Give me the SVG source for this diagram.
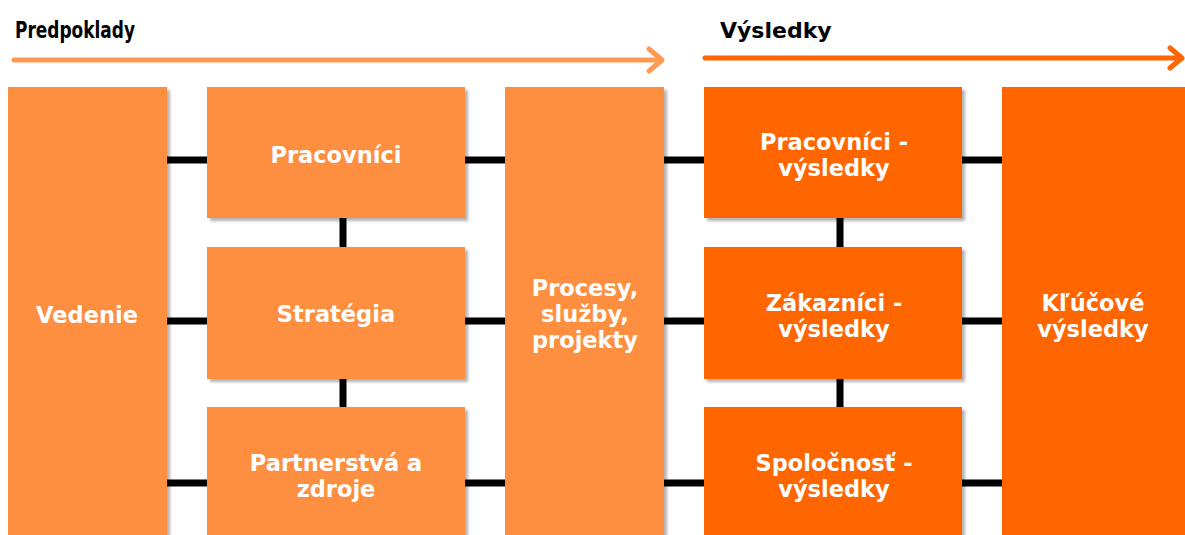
<svg xmlns="http://www.w3.org/2000/svg" width="1185" height="535" viewBox="0 0 1185 535">
<style>
.l{fill:#FF8F40}
.d{fill:#FF6600}
.t{font-family:"DejaVu Sans",Verdana,sans-serif;font-weight:bold;font-size:22.5px;fill:#FFFFFF;text-anchor:middle}
.h{font-weight:bold;fill:#000}
.c{stroke:#000;stroke-width:7;fill:none}
</style>
<defs>
<filter id="sh" x="-10%" y="-10%" width="130%" height="130%">
<feDropShadow dx="3" dy="3" stdDeviation="1.5" flood-color="#000" flood-opacity="0.3"/>
</filter>
</defs>
<rect width="1185" height="535" fill="#fff"/>
<text class="h" x="15" y="38" font-size="23" textLength="120" lengthAdjust="spacingAndGlyphs" font-family="'DejaVu Sans Condensed','Liberation Sans',Arial,sans-serif">Predpoklady</text>
<text class="h" x="720" y="38" font-size="22" font-family="'DejaVu Sans',Verdana,sans-serif">Výsledky</text>
<g id="arrows" fill="none" stroke-linecap="round" stroke-linejoin="round" stroke-width="5">
<path d="M14 60 H662 M649 49 L662 60 L649 71" stroke="#FF9A55"/>
<path d="M705 58 H1182 M1170 48 L1182 58 L1170 68" stroke="#FF6600"/>
</g>
<g id="connectors">
<path class="c" d="M167 160 H207 M465 160 H505 M664 160 H704 M962 160 H1002"/>
<path class="c" d="M167 321 H207 M465 321 H505 M664 321 H704 M962 321 H1002"/>
<path class="c" d="M167 483 H207 M465 483 H505 M664 483 H704 M962 483 H1002"/>
<path class="c" d="M343 218 V247 M343 379 V407 M840 218 V247 M840 379 V407"/>
</g>
<g id="vedenie"><rect class="l" filter="url(#sh)" x="8" y="87" width="159" height="460"/><text class="t" x="87" y="323">Vedenie</text></g>
<g id="pracovnici"><rect class="l" filter="url(#sh)" x="207" y="87" width="258" height="131"/><text class="t" x="336" y="163">Pracovníci</text></g>
<g id="strategia"><rect class="l" filter="url(#sh)" x="207" y="247" width="258" height="132"/><text class="t" x="336" y="322">Stratégia</text></g>
<g id="partnerstva"><rect class="l" filter="url(#sh)" x="207" y="407" width="258" height="140"/><text class="t" x="336" y="471">Partnerstvá a</text><text class="t" x="336" y="497">zdroje</text></g>
<g id="procesy"><rect class="l" filter="url(#sh)" x="505" y="87" width="159" height="460"/><text class="t" x="585" y="296">Procesy,</text><text class="t" x="585" y="322">služby,</text><text class="t" x="585" y="348">projekty</text></g>
<g id="pracovnici-vysledky"><rect class="d" filter="url(#sh)" x="704" y="87" width="258" height="131"/><text class="t" x="834" y="150">Pracovníci -</text><text class="t" x="834" y="176">výsledky</text></g>
<g id="zakaznici-vysledky"><rect class="d" filter="url(#sh)" x="704" y="247" width="258" height="132"/><text class="t" x="834" y="311">Zákazníci -</text><text class="t" x="834" y="337">výsledky</text></g>
<g id="spolocnost-vysledky"><rect class="d" filter="url(#sh)" x="704" y="407" width="258" height="140"/><text class="t" x="834" y="471">Spoločnosť -</text><text class="t" x="834" y="497">výsledky</text></g>
<g id="klucove-vysledky"><rect class="d" x="1002" y="87" width="190" height="460"/><text class="t" x="1093" y="311">Kľúčové</text><text class="t" x="1093" y="337">výsledky</text></g>
</svg>
